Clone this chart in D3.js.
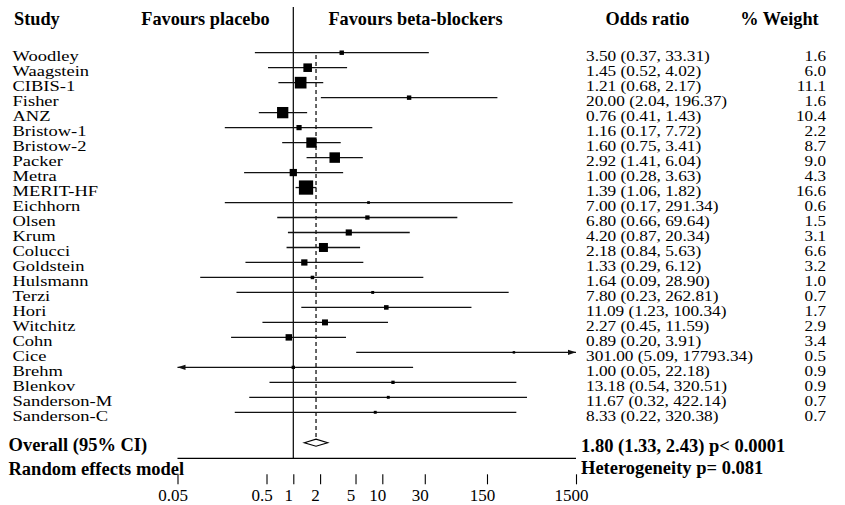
<!DOCTYPE html>
<html><head><meta charset="utf-8">
<script src="https://cdn.jsdelivr.net/npm/d3@7"></script>
<style>
html,body{margin:0;padding:0;background:#fff;}
text{font-family:"Liberation Serif","Times New Roman",serif;fill:#000;}
.b{font-weight:bold;}
</style></head>
<body>
<svg id="c" width="845" height="505"></svg>
<script>
const studies = ["Woodley","Waagstein","CIBIS-1","Fisher","ANZ","Bristow-1","Bristow-2","Packer","Metra","MERIT-HF","Eichhorn","Olsen","Krum","Colucci","Goldstein","Hulsmann","Terzi","Hori","Witchitz","Cohn","Cice","Brehm","Blenkov","Sanderson-M","Sanderson-C"];
const oddsRatio = [3.50,1.45,1.21,20.00,0.76,1.16,1.60,2.92,1.00,1.39,7.00,6.80,4.20,2.18,1.33,1.64,7.80,11.09,2.27,0.89,301.00,1.00,13.18,11.67,8.33];
const ciLow = [0.37,0.52,0.68,2.04,0.41,0.17,0.75,1.41,0.28,1.06,0.17,0.66,0.87,0.84,0.29,0.09,0.23,1.23,0.45,0.20,5.09,0.05,0.54,0.32,0.22];
const ciHigh = [33.31,4.02,2.17,196.37,1.43,7.72,3.41,6.04,3.63,1.82,291.34,69.64,20.34,5.63,6.12,28.90,262.81,100.34,11.59,3.91,17793.34,22.18,320.51,422.14,320.38];
const weights = [1.6,6.0,11.1,1.6,10.4,2.2,8.7,9.0,4.3,16.6,0.6,1.5,3.1,6.6,3.2,1.0,0.7,1.7,2.9,3.4,0.5,0.9,0.9,0.7,0.7];
const overall = [1.80,1.33,2.43];
const overallP = "p< 0.0001";
const heterogeneityP = "0.081";
const tickValues = [0.05,0.5,1,2,5,10,30,150,1500];
const tickLabels = ["0.05","0.5","1","2","5","10","30","150","1500"];

const svg = d3.select("#c");
const x = d3.scaleLog().domain([0.05,1500]).range([177.5,576]);
const y = d3.scalePoint().domain(studies).range([52.7,412.3]);
const f2 = d3.format(".2f"), f1 = d3.format(".1f");
const yOverall = 442.7, yBase = 458.3;

// headers
const hdr = [["Study",14,"start"],["Favours placebo",205.5,"middle"],["Favours beta-blockers",415.5,"middle"],["Odds ratio",647.5,"middle"],["% Weight",779.5,"middle"]];
svg.selectAll("text.h").data(hdr).join("text").attr("class","h b")
  .attr("x",d=>d[1]).attr("y",25).attr("text-anchor",d=>d[2])
  .style("font-size","18.3px").text(d=>d[0]);

// reference line at 1
svg.append("line").attr("x1",x(1)).attr("x2",x(1)).attr("y1",7).attr("y2",yBase)
  .attr("stroke","#000").attr("stroke-width",1.2);
// dashed overall line
svg.append("line").attr("x1",x(overall[0])).attr("x2",x(overall[0])).attr("y1",55).attr("y2",yOverall-3.6)
  .attr("stroke","#000").attr("stroke-width",1.2).attr("stroke-dasharray","4,3");

const dom = x.domain();
const rows = studies.map((s,i)=>({s,or:oddsRatio[i],lo:ciLow[i],hi:ciHigh[i],w:weights[i]}));
const g = svg.append("g");
const fs = "15.3px";
rows.forEach(d=>{
  const yy = y(d.s);
  const x1 = x(Math.max(d.lo,dom[0])), x2 = x(Math.min(d.hi,dom[1]));
  g.append("line").attr("x1",x1).attr("x2",x2).attr("y1",yy).attr("y2",yy)
    .attr("stroke","#111").attr("stroke-width",1.3);
  if (d.hi>dom[1]) g.append("path").attr("d",`M${x2},${yy}L${x2-8},${yy-2.6}L${x2-8},${yy+2.6}Z`).attr("fill","#111");
  if (d.lo<=dom[0]) g.append("path").attr("d",`M${x1},${yy}L${x1+8},${yy-2.6}L${x1+8},${yy+2.6}Z`).attr("fill","#111");
  const side = 3.5*Math.sqrt(d.w);
  g.append("rect").attr("x",x(d.or)-side/2).attr("y",yy-side/2).attr("width",side).attr("height",side).attr("fill","#000");
  // texts
  g.append("text").attr("transform",`translate(12.5,${yy+8.5}) scale(1.21,1)`).style("font-size",fs).text(d.s);
  g.append("text").attr("transform",`translate(586,${yy+8.5}) scale(1.13,1)`).style("font-size",fs)
    .text(`${f2(d.or)} (${f2(d.lo)}, ${f2(d.hi)})`);
  g.append("text").attr("transform",`translate(826,${yy+8.5}) scale(1.12,1)`).attr("text-anchor","end").style("font-size",fs).text(f1(d.w));
});

// overall diamond
const xd = [x(overall[1]),x(overall[0]),x(overall[2])];
svg.append("path").attr("d",`M${xd[0]},${yOverall}L${xd[1]},${yOverall-3.5}L${xd[2]},${yOverall}L${xd[1]},${yOverall+3.5}Z`)
  .attr("fill","#fff").attr("stroke","#000").attr("stroke-width",1.2);

svg.append("text").attr("class","b").attr("x",8.5).attr("y",451).style("font-size","18.5px").text("Overall (95% CI)");
svg.append("text").attr("class","b").attr("x",8.5).attr("y",474.5).style("font-size","18.5px").text("Random effects model");
svg.append("text").attr("class","b").attr("x",581).attr("y",451.5).style("font-size","18.5px")
  .text(`${f2(overall[0])} (${f2(overall[1])}, ${f2(overall[2])}) ${overallP}`);
svg.append("text").attr("class","b").attr("x",581).attr("y",473.5).style("font-size","18.5px").text(`Heterogeneity p= ${heterogeneityP}`);

// axis
const axis = d3.axisBottom(x).tickValues(tickValues).tickSize(10).tickSizeOuter(0).tickFormat((d,i)=>tickLabels[i]);
const ag = svg.append("g").attr("transform",`translate(0,${yBase})`).call(axis);
ag.select(".domain").attr("d",`M${x(dom[0])},0H${x(dom[1])}`).attr("stroke","#000").attr("stroke-width",1.2);
ag.selectAll(".tick line").attr("y1",16).attr("y2",26).attr("stroke","#000").attr("stroke-width",1.1);
ag.selectAll(".tick text").attr("y",43).attr("dy",null).attr("x",-5)
  .style("font-size","17px").style("font-family","'Liberation Serif','Times New Roman',serif").attr("fill","#000");
</script>
</body></html>
